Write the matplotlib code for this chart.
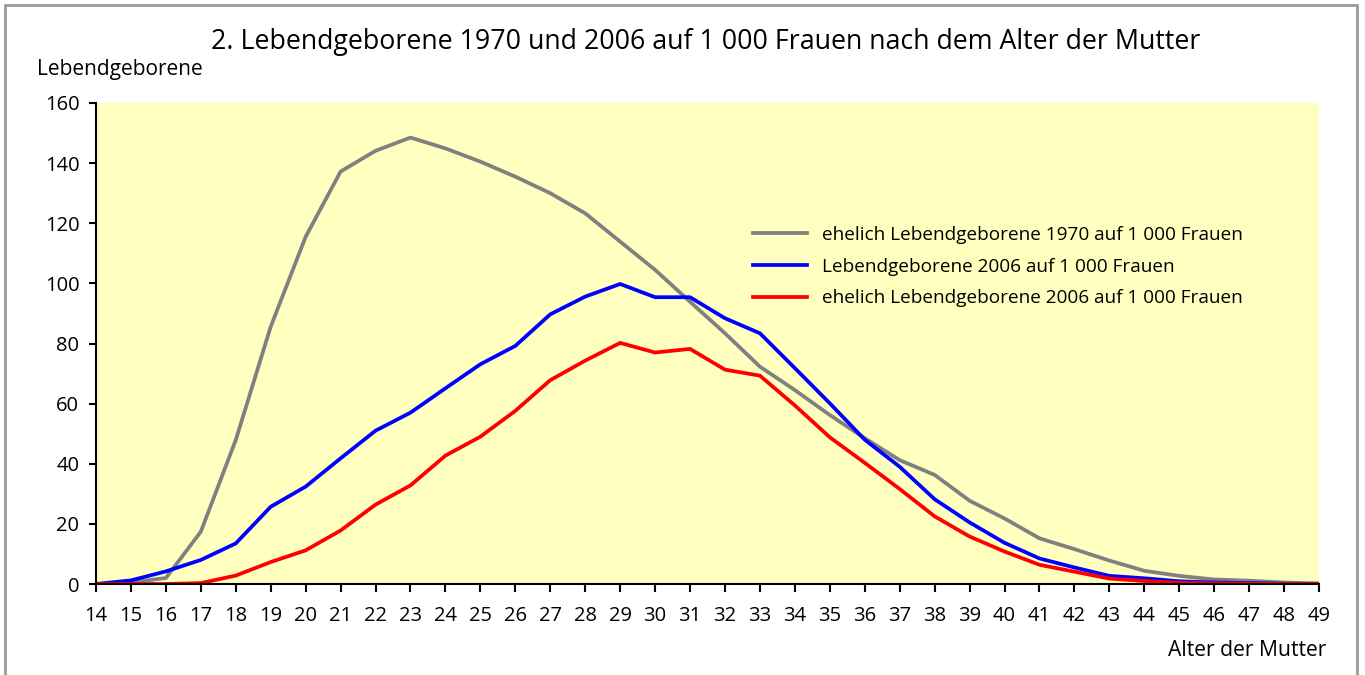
import matplotlib.pyplot as plt
from matplotlib.patches import Rectangle

plt.rcParams['font.family'] = ['Open Sans', 'DejaVu Sans']

# Alter der Mutter
ages = list(range(14, 50))

# Lebendgeborene auf 1 000 Frauen
ehelich_1970 = [0, 0.5, 2, 17.4, 47.9, 85.6, 115.5, 137.2, 144.1, 148.5,
                144.9, 140.5, 135.5, 130, 123.3, 113.9, 104.5, 93.9, 83.4, 72.3,
                64.5, 56.2, 48.5, 41.2, 36.3, 27.7, 21.8, 15.2, 11.6, 7.8,
                4.4, 2.7, 1.5, 1.1, 0.5, 0.2]
gesamt_2006 = [0, 1.2, 4.2, 8, 13.5, 25.7, 32.4, 41.8, 51, 57,
               65.1, 73.1, 79.2, 89.7, 95.6, 99.8, 95.4, 95.4, 88.4, 83.4,
               71.8, 60.1, 48, 39, 28.2, 20.5, 13.7, 8.5, 5.5, 2.7,
               1.9, 0.9, 0.5, 0.3, 0.1, 0]
ehelich_2006 = [0, 0, 0, 0.3, 2.8, 7.3, 11.2, 17.8, 26.4, 32.8,
                42.7, 49, 57.6, 67.8, 74.3, 80.2, 77, 78.2, 71.3, 69.3,
                59.4, 48.8, 40.3, 31.6, 22.5, 15.8, 10.8, 6.4, 4.1, 1.8,
                1, 0.4, 0.2, 0.1, 0, 0]

labels = ["ehelich Lebendgeborene 1970 auf 1 000 Frauen",
          "Lebendgeborene 2006 auf 1 000 Frauen",
          "ehelich Lebendgeborene 2006 auf 1 000 Frauen"]

fig = plt.figure(figsize=(13.65, 6.75), dpi=100)
ax = fig.add_axes([96 / 1365, 1 - 584 / 675, 1223 / 1365, 481 / 675])
ax.set_facecolor('#FFFFC0')

ax.plot(ages, ehelich_1970, color='#808080', lw=2.7, label=labels[0])
ax.plot(ages, gesamt_2006, color='#0000FF', lw=2.7, label=labels[1])
ax.plot(ages, ehelich_2006, color='#FF0000', lw=2.7, label=labels[2])

ax.set_xlim(14, 49)
ax.set_ylim(0, 160)
ax.set_xticks(ages)
ax.set_yticks(range(0, 161, 20))
ax.tick_params(labelsize=14.5, width=1.5, color='black')
ax.tick_params(axis='x', length=6, pad=10)
ax.tick_params(axis='y', length=5, pad=7)
ax.spines['top'].set_visible(False)
ax.spines['right'].set_visible(False)
ax.spines['left'].set_linewidth(1.5)
ax.spines['bottom'].set_linewidth(1.5)

ax.legend(loc='upper left', bbox_to_anchor=(0.5235, 0.78), frameon=False,
          fontsize=13.7, handlelength=2.8, handletextpad=0.8, labelspacing=0.72)

fig.text(0.517, 1 - 42 / 675, "2. Lebendgeborene 1970 und 2006 auf 1 000 Frauen nach dem Alter der Mutter",
         ha='center', va='center', fontsize=19.3)
fig.text(37 / 1365, 1 - 70 / 675, "Lebendgeborene", ha='left', va='center', fontsize=15)
fig.text(1326 / 1365, 1 - 650 / 675, "Alter der Mutter", ha='right', va='center', fontsize=15.2)

# grey frame around the chart
fig.patches.append(Rectangle((5 / 1365, -0.02), 1352 / 1365, 1.02 - 5 / 675,
                             transform=fig.transFigure, fill=False,
                             edgecolor='#999999', lw=2))

fig.savefig('out.png', dpi=100)
